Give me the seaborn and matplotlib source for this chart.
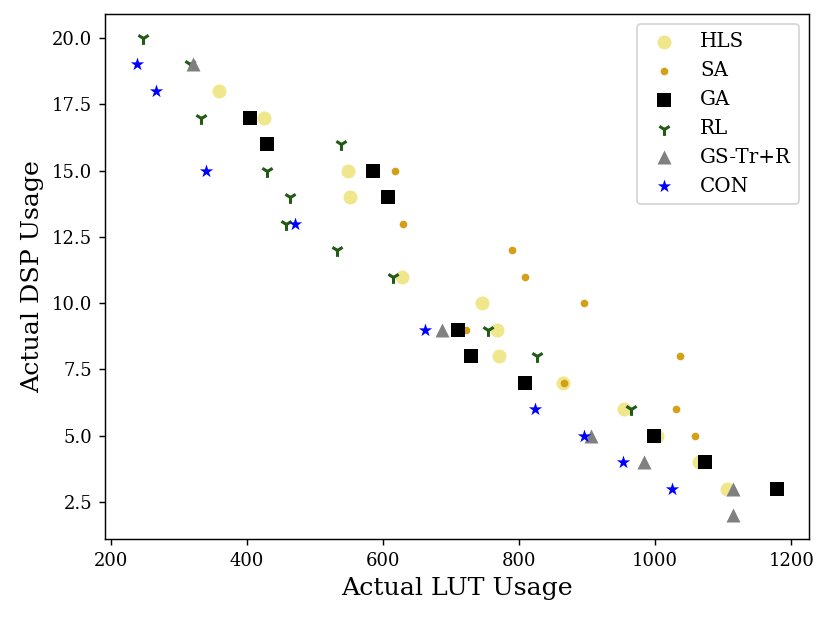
import numpy as np
import pandas as pd
import matplotlib
matplotlib.use('Agg')
import matplotlib.pyplot as plt
import seaborn as sns

# LUT / DSP usage per method
hls_lut = [359, 425, 549, 552, 628, 745, 767, 770, 865, 954, 1003, 1065, 1105]
hls_dsp = [18, 17, 15, 14, 11, 10, 9, 8, 7, 6, 5, 4, 3]

sa_lut = [618, 629, 789, 809, 896, 722, 1037, 866, 1031, 1059]
sa_dsp = [15, 13, 12, 11, 10, 9, 8, 7, 6, 5]

ga_lut = [404, 429, 585, 608, 710, 730, 809, 999, 1073, 1179]
ga_dsp = [17, 16, 15, 14, 9, 8, 7, 5, 4, 3]

rl_lut = [247, 316, 332, 538, 429, 464, 458, 533, 615, 755, 826, 964]
rl_dsp = [20, 19, 17, 16, 15, 14, 13, 12, 11, 9, 8, 6]

gs_lut = [321, 686, 906, 984, 1114, 1114]
gs_dsp = [19, 9, 5, 4, 3, 2]

con_lut = [238, 267, 340, 471, 662, 824, 895, 953, 1025]
con_dsp = [19, 18, 15, 13, 9, 6, 5, 4, 3]

methods = ['HLS', 'SA', 'GA', 'RL', 'GS-Tr+R', 'CON']
luts = [hls_lut, sa_lut, ga_lut, rl_lut, gs_lut, con_lut]
dsps = [hls_dsp, sa_dsp, ga_dsp, rl_dsp, gs_dsp, con_dsp]

# marker, colour, size
styles = {
    'HLS': ('o', 'khaki', 60),
    'SA': ('o', '#d4a017', 18),
    'GA': ('s', 'black', 60),
    'RL': ('1', '#235a16', 50),
    'GS-Tr+R': ('^', 'grey', 60),
    'CON': ('*', 'blue', 60),
}

df = pd.concat([pd.DataFrame({'LUT': l, 'DSP': d, 'Method': m})
                for m, l, d in zip(methods, luts, dsps)], ignore_index=True)

plt.rcParams['font.family'] = 'DejaVu Serif'

fig = plt.figure(figsize=(831 / 130, 619 / 130), dpi=130)
ax = fig.add_axes([0.126, 0.1292, 0.8475, 0.848])

for m in methods:
    marker, color, size = styles[m]
    sub = df[df['Method'] == m]
    if marker == '1':
        sns.scatterplot(x='LUT', y='DSP', data=sub, marker=marker, color=color,
                        edgecolor=color, s=size, linewidth=1.7, label=m, ax=ax)
    else:
        sns.scatterplot(x='LUT', y='DSP', data=sub, marker=marker, color=color,
                        edgecolor='face', s=size, linewidth=0, label=m, ax=ax)

ax.set_xlabel('Actual LUT Usage', fontsize=14)
ax.set_ylabel('Actual DSP Usage', fontsize=14)
ax.tick_params(labelsize=10)
ax.legend(loc='upper right', fontsize=11)

fig.savefig('out.png', dpi=130)
